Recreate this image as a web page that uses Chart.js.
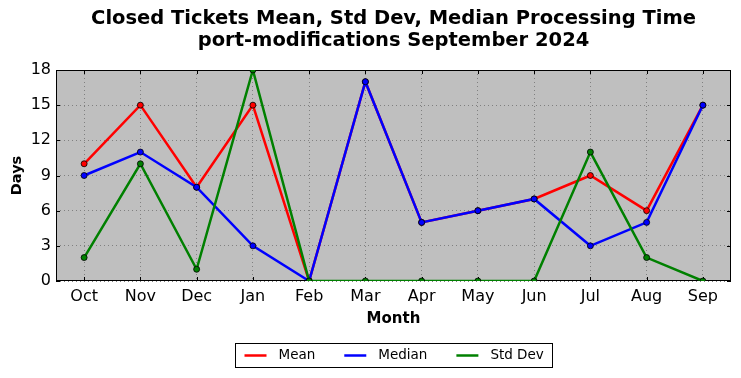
<!DOCTYPE html>
<html>
<head>
<meta charset="utf-8">
<script src="https://cdn.jsdelivr.net/npm/chart.js@4/dist/chart.umd.min.js"></script>
<style>
html,body{margin:0;padding:0;background:#fff;}
#wrap{width:741px;height:378px;position:relative;}
</style>
</head>
<body>
<div id="wrap"><canvas id="c" width="741" height="378"></canvas></div>
<script>
const titleLines = ['Closed Tickets Mean, Std Dev, Median Processing Time', 'port-modifications September 2024'];
const months = ['Oct','Nov','Dec','Jan','Feb','Mar','Apr','May','Jun','Jul','Aug','Sep'];
const meanDays   = [10, 15, 8, 15, 0, 17, 5, 6, 7, 9, 6, 15];
const medianDays = [9, 11, 8, 3, 0, 17, 5, 6, 7, 3, 5, 15];
const stdDevDays = [2, 10, 1, 18, 0, 0, 0, 0, 0, 11, 2, 0];
const yTickValues = [0, 3, 6, 9, 12, 15, 18];

const FONT = "'DejaVu Sans', sans-serif";

const decor = {
  id: 'decor',
  beforeDraw(chart) {
    const {ctx, chartArea: a} = chart;
    ctx.save();
    ctx.fillStyle = '#bfbfbf';
    ctx.fillRect(a.left, a.top, a.right - a.left, a.bottom - a.top);
    ctx.restore();
  },
  beforeDatasetsDraw(chart) {
    const {ctx, chartArea: a, scales} = chart;
    ctx.save();
    ctx.strokeStyle = '#000';
    ctx.lineWidth = 1;
    ctx.strokeRect(Math.round(a.left) + 0.5, Math.round(a.top) + 0.5, Math.round(a.right - a.left) - 1, Math.round(a.bottom - a.top) - 1);
    ctx.beginPath();
    scales.x.ticks.forEach((t, i) => {
      const x = Math.round(scales.x.getPixelForTick(i)) + 0.5;
      ctx.moveTo(x, a.bottom); ctx.lineTo(x, a.bottom - 4);
      ctx.moveTo(x, a.top); ctx.lineTo(x, a.top + 4);
    });
    scales.y.ticks.forEach((t, i) => {
      const y = Math.round(scales.y.getPixelForTick(i)) + 0.5;
      ctx.moveTo(a.left, y); ctx.lineTo(a.left + 4, y);
      ctx.moveTo(a.right, y); ctx.lineTo(a.right - 4, y);
    });
    ctx.stroke();
    ctx.restore();
  },
  afterDraw(chart) {
    const {ctx, chartArea: a} = chart;
    const cx = (a.left + a.right) / 2;
    ctx.save();
    ctx.fillStyle = '#000';
    ctx.font = 'bold 19.5px ' + FONT;
    ctx.textAlign = 'center';
    ctx.textBaseline = 'middle';
    ctx.fillText(titleLines[0], cx, 19);
    ctx.fillText(titleLines[1], cx, 41);
    ctx.font = '13.5px ' + FONT;
    const pad = 9, handle = 22, gap = 12, colGap = 29;
    const items = chart.data.datasets.map(d => ({label: d.label, color: d.borderColor, w: ctx.measureText(d.label).width}));
    let total = pad * 2;
    items.forEach((it, i) => { total += handle + gap + it.w + (i < items.length - 1 ? colGap : 0); });
    total = Math.round(total);
    const boxL = Math.round(cx - total / 2) + 0.5;
    const boxT = 343.5, boxH = 24;
    ctx.strokeStyle = '#000';
    ctx.lineWidth = 1;
    ctx.fillStyle = '#fff';
    ctx.fillRect(boxL, boxT, total, boxH);
    ctx.strokeRect(boxL, boxT, total, boxH);
    let x = boxL + pad;
    const ym = boxT + boxH / 2;
    ctx.textAlign = 'left';
    items.forEach(it => {
      ctx.strokeStyle = it.color;
      ctx.lineWidth = 2.5;
      ctx.beginPath();
      ctx.moveTo(x, ym); ctx.lineTo(x + handle, ym);
      ctx.stroke();
      x += handle + gap;
      ctx.fillStyle = '#000';
      ctx.fillText(it.label, x, ym);
      x += it.w + colGap;
    });
    ctx.restore();
  }
};

function ds(label, data, color, order) {
  return {
    label, data, order,
    borderColor: color,
    backgroundColor: color,
    borderWidth: 2.5,
    pointRadius: 3,
    pointHoverRadius: 3,
    pointBackgroundColor: color,
    pointBorderColor: '#000',
    pointBorderWidth: 0.8,
    tension: 0,
    fill: false
  };
}

new Chart(document.getElementById('c'), {
  type: 'line',
  plugins: [decor],
  data: {
    labels: months,
    datasets: [
      ds('Mean', meanDays, '#ff0000', 3),
      ds('Median', medianDays, '#0000ff', 2),
      ds('Std Dev', stdDevDays, '#008000', 1)
    ]
  },
  options: {
    responsive: false,
    animation: false,
    events: [],
    layout: {padding: {top: 70, right: 10, bottom: 50, left: 0}},
    plugins: {legend: {display: false}, title: {display: false}, tooltip: {enabled: false}},
    scales: {
      x: {
        type: 'category',
        offset: true,
        grid: {display: true, drawTicks: false, color: '#808080', lineWidth: 1, offset: false},
        border: {display: false, dash: [1, 3]},
        ticks: {color: '#000', font: {family: FONT, size: 16}, padding: 6, maxRotation: 0, autoSkip: false},
        title: {display: true, text: 'Month', color: '#000', font: {family: FONT, size: 15, weight: 'bold'}, padding: {top: 0, bottom: 0}},
        afterFit(scale) { scale.height = 47; }
      },
      y: {
        min: 0, max: 18,
        afterBuildTicks(scale) { scale.ticks = yTickValues.map(v => ({value: v})); },
        grid: {display: true, drawTicks: false, color: '#808080', lineWidth: 1},
        border: {display: false, dash: [1, 3]},
        ticks: {color: '#000', font: {family: FONT, size: 16}, padding: 5},
        title: {display: true, text: 'Days', color: '#000', font: {family: FONT, size: 14.5, weight: 'bold'}, padding: {top: 9, bottom: 0}},
        afterFit(scale) { scale.width = 56; }
      }
    }
  }
});
</script>
</body>
</html>
